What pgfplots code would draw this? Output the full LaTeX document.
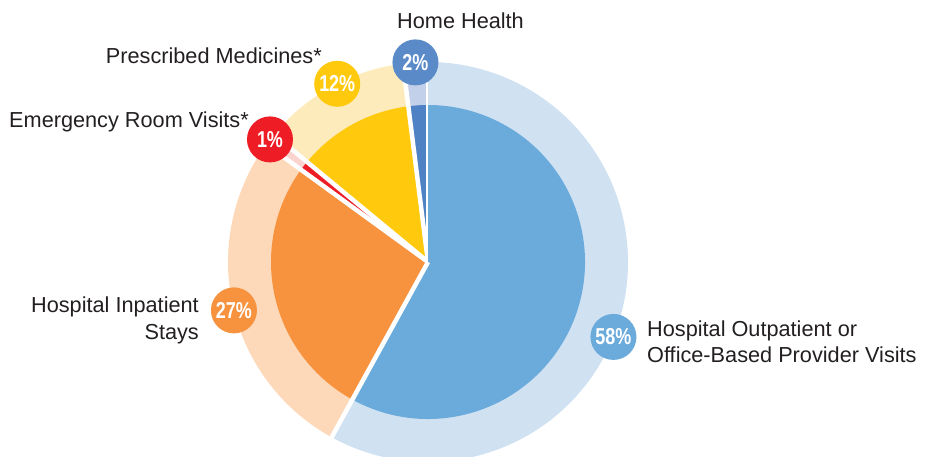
\documentclass[border=0pt]{standalone}
\usepackage{pgfplots}
\pgfplotsset{compat=1.18}
\usepackage{pgfplotstable}
\usepackage{graphicx}
\usepackage{fontspec}
\setmainfont{Liberation Sans}

\definecolor{hhD}{HTML}{4F82C4}\definecolor{hhL}{HTML}{C3D0E9}\definecolor{hhC}{HTML}{5A8AC8}
\definecolor{pmD}{HTML}{FFC90D}\definecolor{pmL}{HTML}{FEEBBC}\definecolor{pmC}{HTML}{FFC90D}
\definecolor{erD}{HTML}{EE1C25}\definecolor{erL}{HTML}{FBD3CF}\definecolor{erC}{HTML}{EE1C25}
\definecolor{ipD}{HTML}{F7923E}\definecolor{ipL}{HTML}{FDD9B9}\definecolor{ipC}{HTML}{F7923E}
\definecolor{opD}{HTML}{6AABDB}\definecolor{opL}{HTML}{D0E1F2}\definecolor{opC}{HTML}{6AABDB}
\definecolor{txt}{HTML}{231F20}

% slices counter-clockwise from 12 o'clock
\pgfplotstableread{
name value col labang
HomeHealth 2 hh 93.6
Medicines 12 pm 117
ER 1 er 142.2
Inpatient 27 ip 194
Outpatient 58 op 338
}\piedata

\newcommand{\pct}[1]{{\fontsize{23bp}{23bp}\selectfont\bfseries\scalebox{0.78}[1]{#1}}}

\begin{document}
\begin{tikzpicture}
\useasboundingbox (0,0) rectangle (928bp,457bp);
\begin{axis}[at={(0,0)}, anchor=south west, scale only axis,
  width=928bp, height=457bp, xmin=0, xmax=928, ymin=0, ymax=457,
  hide axis, clip=false]
\def\startang{90}
\pgfplotsforeachungrouped \i in {0,...,4}{%
  \pgfplotstablegetelem{\i}{value}\of\piedata \let\pv\pgfplotsretval
  \pgfplotstablegetelem{\i}{col}\of\piedata \let\pc\pgfplotsretval
  \pgfmathsetmacro\endang{\startang+3.6*\pv}
  \edef\cmd{%
    \noexpand\fill[\pc L] (axis cs:428,195) -- ++(\startang:200bp)
      arc[start angle=\startang, end angle=\endang, radius=200bp] -- cycle;
    \noexpand\fill[\pc D] (axis cs:428,195) -- ++(\startang:157bp)
      arc[start angle=\startang, end angle=\endang, radius=157bp] -- cycle;
    \noexpand\draw[white, line width=4.5bp] (axis cs:428,195) -- ++(\startang:206bp);
  }%
  \cmd
  \global\let\startang\endang
}
\pgfplotsforeachungrouped \i in {0,...,4}{%
  \pgfplotstablegetelem{\i}{value}\of\piedata \let\pv\pgfplotsretval
  \pgfplotstablegetelem{\i}{col}\of\piedata \let\pc\pgfplotsretval
  \pgfplotstablegetelem{\i}{labang}\of\piedata \let\pa\pgfplotsretval
  \edef\cmd{%
    \noexpand\path (axis cs:428,195) ++(\pa:200bp) node[circle, fill=\pc C, minimum size=46bp, inner sep=0pt, text=white] {\noexpand\pct{\pv\noexpand\%}};
  }%
  \cmd
}
\begin{scope}[every node/.style={inner sep=0pt, text=txt, font=\fontsize{21.7bp}{26bp}\selectfont}]
\node[anchor=base west] at (axis cs:397,428) {Home Health};
\node[anchor=base east] at (axis cs:322,393) {Prescribed Medicines*};
\node[anchor=base east] at (axis cs:249,329) {Emergency Room Visits*};
\node[anchor=base east] at (axis cs:199,144) {Hospital Inpatient};
\node[anchor=base east] at (axis cs:199,117) {Stays};
\node[anchor=base west] at (axis cs:647,120) {Hospital Outpatient or};
\node[anchor=base west] at (axis cs:647,94) {Office-Based Provider Visits};
\end{scope}
\end{axis}
\end{tikzpicture}
\end{document}
